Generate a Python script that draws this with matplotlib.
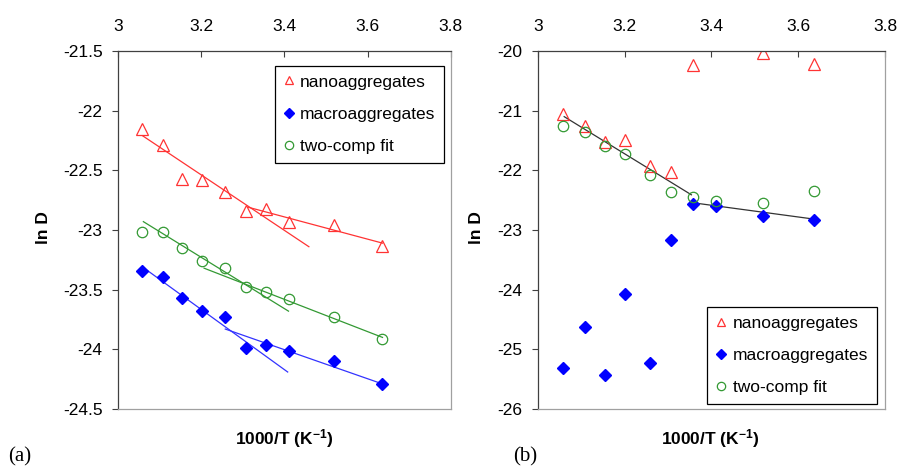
import numpy as np
import matplotlib
matplotlib.use("Agg")
import matplotlib.pyplot as plt
from matplotlib.ticker import FuncFormatter

plt.rcParams['font.family'] = ['Liberation Sans', 'DejaVu Sans']
plt.rcParams['axes.unicode_minus'] = False
plt.rcParams['mathtext.fontset'] = 'custom'
plt.rcParams['mathtext.rm'] = 'Liberation Sans:bold'
plt.rcParams['mathtext.bf'] = 'Liberation Sans:bold'
plt.rcParams['mathtext.default'] = 'bf'

# 1000/T values (same temperatures in both panels)
x_vals = [3.058, 3.108, 3.155, 3.202, 3.258, 3.307, 3.357, 3.411, 3.520, 3.636]

# panel (a)
nano_a = [-22.15, -22.29, -22.57, -22.58, -22.68, -22.84, -22.82, -22.93, -22.96, -23.13]
macro_a = [-23.34, -23.39, -23.57, -23.68, -23.73, -23.99, -23.96, -24.01, -24.10, -24.29]
twocomp_a = [-23.02, -23.02, -23.15, -23.26, -23.32, -23.48, -23.52, -23.58, -23.73, -23.91]

# panel (b)
nano_b = [-21.06, -21.25, -21.52, -21.49, -21.92, -22.03, -20.23, np.nan, -20.04, -20.21]
macro_b = [-25.32, -24.63, -25.43, -24.08, -25.23, -23.16, -22.56, -22.59, -22.77, -22.83]
twocomp_b = [-21.26, -21.35, -21.59, -21.73, -22.08, -22.37, -22.44, -22.51, -22.55, -22.35]

# linear fit segments (end points)
nano_fit1_x, nano_fit1_y = [3.059, 3.459], [-22.21, -23.14]
nano_fit2_x, nano_fit2_y = [3.314, 3.636], [-22.81, -23.11]
comp_fit1_x, comp_fit1_y = [3.061, 3.410], [-22.93, -23.68]
comp_fit2_x, comp_fit2_y = [3.207, 3.636], [-23.32, -23.90]
macro_fit1_x, macro_fit1_y = [3.063, 3.408], [-23.32, -24.19]
macro_fit2_x, macro_fit2_y = [3.258, 3.636], [-23.83, -24.29]
b_fit1_x, b_fit1_y = [3.061, 3.354], [-21.10, -22.41]
b_fit2_x, b_fit2_y = [3.354, 3.639], [-22.54, -22.82]

red = '#ff3333'
blue = '#0000ff'
green = '#339933'
fs = 12.5

W, H = 899, 468
fig = plt.figure(figsize=(W / 100, H / 100), dpi=100)


def make_axes(left, right, top, bottom):
    ax = fig.add_axes([left / W, 1 - bottom / H, (right - left) / W, (bottom - top) / H])
    ax.xaxis.tick_top()
    ax.set_xlim(3, 3.8)
    ax.set_xticks([3, 3.2, 3.4, 3.6, 3.8])
    ax.xaxis.set_major_formatter(FuncFormatter(lambda v, p: f'{v:g}'))
    ax.yaxis.set_major_formatter(FuncFormatter(lambda v, p: f'{v:g}'))
    ax.tick_params(axis='x', direction='in', length=4, width=0.8, pad=12,
                   labelsize=fs, color='#404040')
    ax.tick_params(axis='y', direction='out', length=4, width=0.8, pad=7,
                   labelsize=fs, color='#404040')
    ax.spines['left'].set_color('#404040')
    ax.spines['top'].set_color('#404040')
    ax.spines['right'].set_color('#a0a0a0')
    ax.spines['bottom'].set_color('#a0a0a0')
    for s in ax.spines.values():
        s.set_linewidth(0.9)
    return ax


def scatter_sets(ax, nano, macro, comp):
    ax.plot(x_vals, nano, ls='none', marker='^', ms=8, mfc='none', mec=red,
            mew=0.9, label='nanoaggregates')
    ax.plot(x_vals, macro, ls='none', marker='D', ms=6, mfc=blue, mec=blue,
            label='macroaggregates')
    ax.plot(x_vals, comp, ls='none', marker='o', ms=7.5, mfc='none', mec=green,
            mew=0.9, label='two-comp fit')


def add_legend(ax, loc, anchor):
    leg = ax.legend(loc=loc, bbox_to_anchor=anchor, fontsize=fs, frameon=True,
                    fancybox=False, framealpha=1, edgecolor='black',
                    handlelength=0.6, handletextpad=0.35, labelspacing=0.98,
                    borderpad=0.5, borderaxespad=0, markerscale=0.8)
    leg.get_frame().set_linewidth(0.9)


# ---- panel (a)
ax1 = make_axes(118, 450.7, 51, 409)
ax1.set_ylim(-24.5, -21.5)
ax1.set_yticks(np.arange(-24.5, -21.4, 0.5))
ax1.plot(nano_fit1_x, nano_fit1_y, color=red, lw=0.9)
ax1.plot(nano_fit2_x, nano_fit2_y, color=red, lw=0.9)
ax1.plot(comp_fit1_x, comp_fit1_y, color=green, lw=0.9)
ax1.plot(comp_fit2_x, comp_fit2_y, color=green, lw=0.9)
ax1.plot(macro_fit1_x, macro_fit1_y, color='#3333ff', lw=0.9)
ax1.plot(macro_fit2_x, macro_fit2_y, color='#3333ff', lw=0.9)
scatter_sets(ax1, nano_a, macro_a, twocomp_a)
add_legend(ax1, 'upper right', (0.98, 0.959))

# ---- panel (b)
ax2 = make_axes(537.7, 885, 51, 409)
ax2.set_ylim(-26, -20)
ax2.set_yticks(np.arange(-26, -19.9, 1))
ax2.plot(b_fit1_x, b_fit1_y, color='#333333', lw=0.9)
ax2.plot(b_fit2_x, b_fit2_y, color='#333333', lw=0.9)
scatter_sets(ax2, nano_b, macro_b, twocomp_b)
add_legend(ax2, 'lower right', (0.976, 0.014))

# axis labels and panel tags
for xc, yl_x, tag, tag_x in [(284, 43, '(a)', 8), (710, 477, '(b)', 513)]:
    fig.text(xc / W, 1 - 439 / H, '1000/T (K$^{-1}$)', ha='center', va='center',
             fontsize=fs, fontweight='bold')
    fig.text(yl_x / W, 1 - 228 / H, 'ln D', ha='center', va='center',
             rotation=90, fontsize=fs, fontweight='bold')
    fig.text(tag_x / W, 1 - 457 / H, tag, ha='left', va='center', fontsize=15,
             family='Liberation Serif')

fig.savefig('out.png', dpi=100)
